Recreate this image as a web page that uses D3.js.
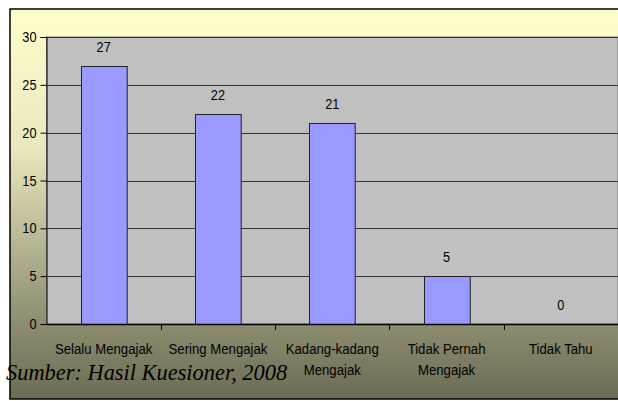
<!DOCTYPE html>
<html>
<head>
<meta charset="utf-8">
<script src="https://cdn.jsdelivr.net/npm/d3@7"></script>
<style>
  body { margin: 0; background: #fff; }
  svg { display: block; }
  .lbl { font-family: "Liberation Sans", Arial, sans-serif; fill: #000; }
</style>
</head>
<body>
<div id="vis"></div>
<script>
// data
var categories = [["Selalu Mengajak"], ["Sering Mengajak"], ["Kadang-kadang", "Mengajak"], ["Tidak Pernah", "Mengajak"], ["Tidak Tahu"]];
var values = [27, 22, 21, 5, 0];
var yTicks = [0, 5, 10, 15, 20, 25, 30];

var width = 618, height = 401;
var narrow = 0.85; // labels in the original are a condensed Arial
var svg = d3.select("#vis").append("svg")
    .attr("width", width).attr("height", height);

var grad = svg.append("defs").append("linearGradient")
    .attr("id", "bg").attr("x1", 0).attr("y1", 0).attr("x2", 0).attr("y2", 1);
grad.append("stop").attr("offset", "0%").attr("stop-color", "#FFFFCC");
grad.append("stop").attr("offset", "35%").attr("stop-color", "#EAE8BE");
grad.append("stop").attr("offset", "80%").attr("stop-color", "#8E8E71");
grad.append("stop").attr("offset", "100%").attr("stop-color", "#6C6C55");

// chart box
svg.append("rect")
    .attr("x", 10).attr("y", 9).attr("width", 620).attr("height", 390)
    .attr("fill", "url(#bg)").attr("stroke", "#000").attr("stroke-width", 1.5);

var plot = { left: 46.5, top: 37, right: 618, bottom: 324 };

var x = d3.scaleBand()
    .domain(d3.range(categories.length))
    .range([plot.left, plot.right])
    .paddingInner(0.6).paddingOuter(0.3);

var xTick = d3.scaleBand()
    .domain(d3.range(categories.length))
    .range([plot.left, plot.right]);

var y = d3.scaleLinear().domain([0, 30]).range([plot.bottom, plot.top]);

// plot area
svg.append("rect")
    .attr("x", plot.left).attr("y", plot.top)
    .attr("width", plot.right - plot.left).attr("height", plot.bottom - plot.top)
    .attr("fill", "#C0C0C0").attr("stroke", "#808080");

// grid
svg.selectAll(".grid").data(yTicks.slice(1)).enter().append("line")
    .attr("x1", plot.left).attr("x2", plot.right)
    .attr("y1", function(d) { return Math.round(y(d)) + 0.5; })
    .attr("y2", function(d) { return Math.round(y(d)) + 0.5; })
    .attr("stroke", "#333").attr("stroke-width", 1);

// bars
svg.selectAll(".bar").data(values).enter().append("rect")
    .attr("class", "bar")
    .attr("x", function(d, i) { return Math.round(x(i)) + 0.5; })
    .attr("y", function(d) { return Math.round(y(d)) + 0.5; })
    .attr("width", x.bandwidth())
    .attr("height", function(d) { return Math.max(0, y(0) - Math.round(y(d))); })
    .attr("fill", "#9999FF")
    .attr("stroke", function(d) { return d > 0 ? "#222" : "none"; })
    .attr("stroke-width", 1);

// value labels
svg.selectAll(".val").data(values).enter().append("g")
    .attr("transform", function(d, i) {
        return "translate(" + (x(i) + x.bandwidth() / 2) + "," + (y(d) - 14) + ") scale(" + narrow + ",1)";
    })
    .append("text")
    .attr("class", "lbl")
    .attr("text-anchor", "middle")
    .attr("font-size", 15)
    .text(function(d) { return d; });

// y axis
var yAxis = svg.append("g")
    .attr("transform", "translate(" + plot.left + ",0)")
    .call(d3.axisLeft(y).tickValues(yTicks).tickSize(6).tickFormat(""));
yAxis.select(".domain").attr("stroke", "#000");
yAxis.selectAll("line").attr("stroke", "#000");

svg.selectAll(".ylab").data(yTicks).enter().append("g")
    .attr("transform", function(d) { return "translate(" + (plot.left - 10) + "," + (y(d) + 5) + ") scale(" + narrow + ",1)"; })
    .append("text")
    .attr("class", "lbl")
    .attr("text-anchor", "end")
    .attr("font-size", 15)
    .text(function(d) { return d; });

// x axis
svg.append("line")
    .attr("x1", plot.left).attr("x2", plot.right)
    .attr("y1", plot.bottom + 0.5).attr("y2", plot.bottom + 0.5)
    .attr("stroke", "#000").attr("stroke-width", 1.5);

svg.selectAll(".xtick").data(d3.range(1, categories.length)).enter().append("line")
    .attr("x1", function(i) { return Math.round(xTick(i)) + 0.5; })
    .attr("x2", function(i) { return Math.round(xTick(i)) + 0.5; })
    .attr("y1", plot.bottom).attr("y2", plot.bottom + 6)
    .attr("stroke", "#000");

var xl = svg.selectAll(".xlab").data(categories).enter().append("g")
    .attr("transform", function(d, i) {
        return "translate(" + (xTick(i) + xTick.bandwidth() / 2) + ",354) scale(" + narrow + ",1)";
    })
    .append("text")
    .attr("class", "lbl")
    .attr("text-anchor", "middle")
    .attr("font-size", 15.5);
xl.selectAll("tspan").data(function(d) { return d; }).enter().append("tspan")
    .attr("x", 0)
    .attr("dy", function(d, j) { return j === 0 ? 0 : 21; })
    .text(function(d) { return d; });

// source
svg.append("text")
    .attr("x", 6).attr("y", 380)
    .attr("font-family", "Liberation Serif, Times New Roman, serif")
    .attr("font-style", "italic")
    .attr("font-size", 22.4)
    .attr("fill", "#000")
    .text("Sumber: Hasil Kuesioner, 2008");
</script>
</body>
</html>
